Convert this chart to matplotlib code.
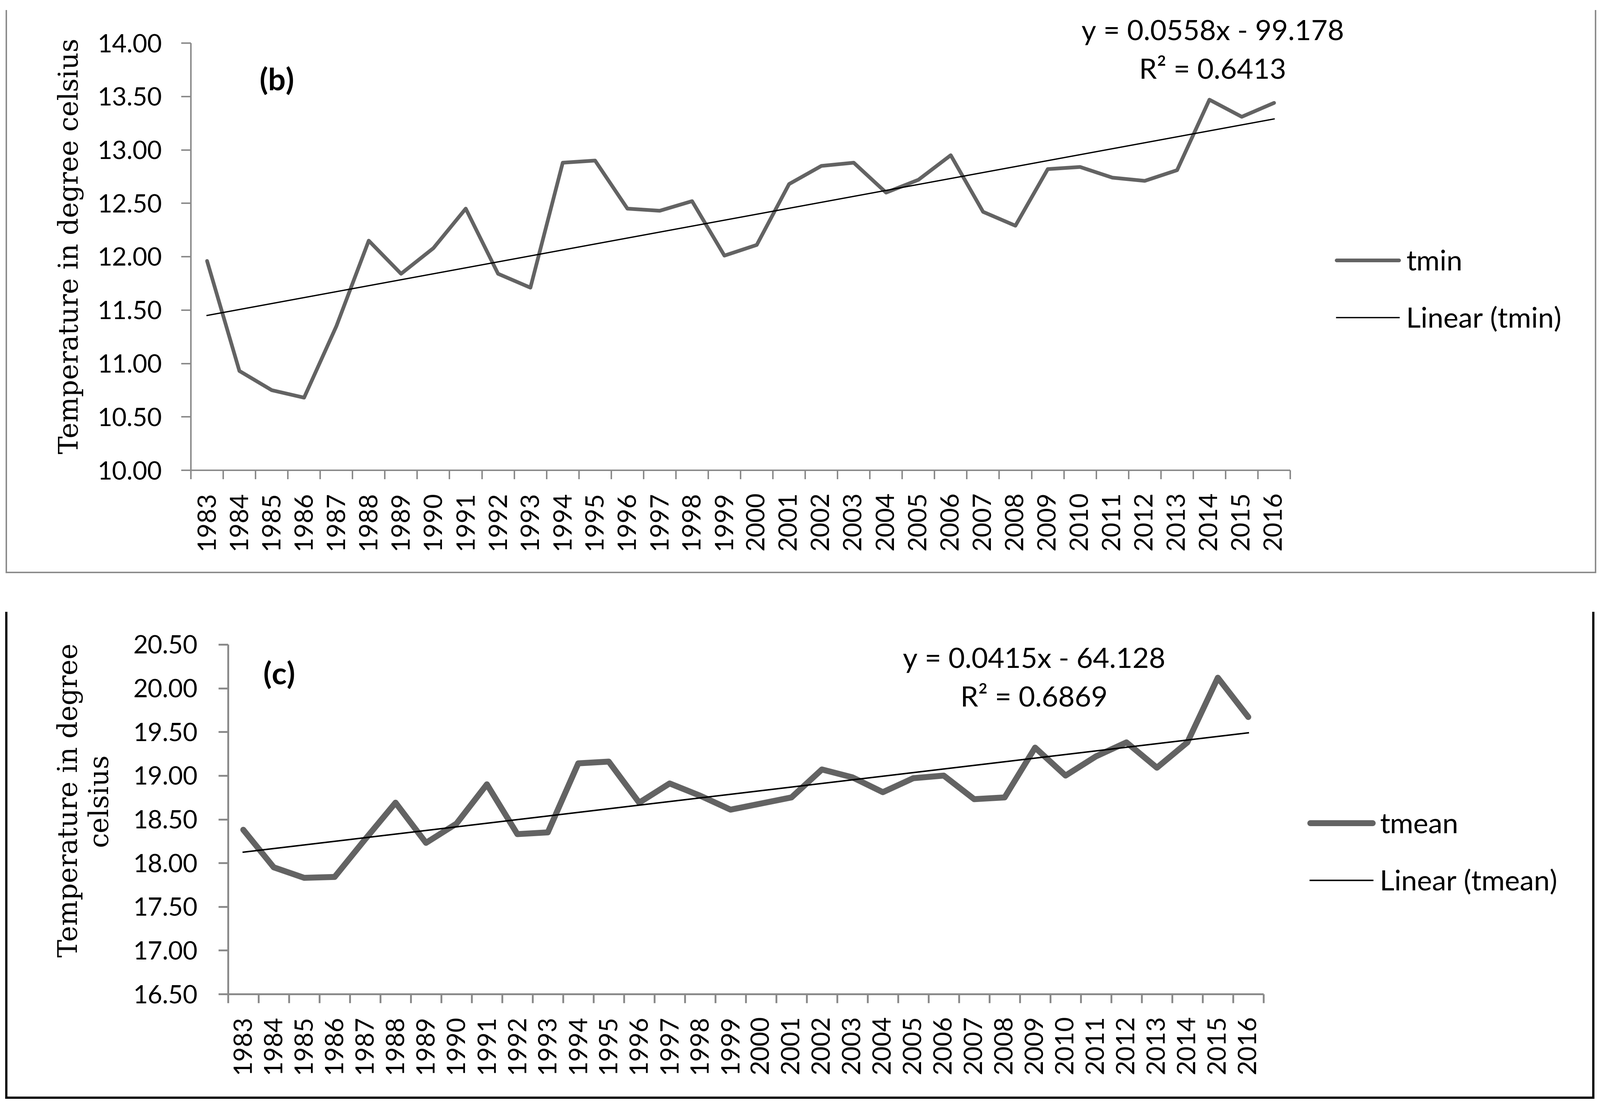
import matplotlib
matplotlib.use("Agg")
import matplotlib.pyplot as plt
from matplotlib.lines import Line2D
from matplotlib.ticker import FixedLocator, FormatStrFormatter
import numpy as np

# ---- data ----
years = list(range(1983, 2017))
tmin = [11.96, 10.93, 10.75, 10.68, 11.35, 12.15, 11.84, 12.08, 12.45, 11.84,
        11.71, 12.88, 12.90, 12.45, 12.43, 12.52, 12.01, 12.11, 12.68, 12.85,
        12.88, 12.60, 12.72, 12.95, 12.42, 12.29, 12.82, 12.84, 12.74, 12.71,
        12.81, 13.47, 13.31, 13.44]
tmean = [18.38, 17.95, 17.83, 17.84, 18.27, 18.69, 18.23, 18.45, 18.90, 18.33,
         18.35, 19.14, 19.16, 18.69, 18.91, 18.77, 18.61, 18.68, 18.75, 19.07,
         18.98, 18.81, 18.97, 19.00, 18.73, 18.75, 19.32, 19.00, 19.22, 19.38,
         19.09, 19.38, 20.12, 19.67]
# trendline labels as printed on the chart
tmin_eq = ("y = 0.0558x - 99.178", "R² = 0.6413")
tmean_eq = ("y = 0.0415x - 64.128", "R² = 0.6869")

W, H = 4308, 2972
PX = 72 / 100  # pixel -> point at dpi 100

GREY_LINE = "#636363"
AXIS = "#8a8a8a"
SANS = ["Lato", "DejaVu Sans"]
SERIF = ["DejaVu Serif"]


def fx(x):
    return x / W


def fy(y):
    return 1 - y / H


fig = plt.figure(figsize=(W / 100, H / 100), dpi=100)


def panel(box, vals, eq, ylim, name, tag, lw, tlw, alw, ylab, ylab_xy,
          tag_xy, eq_xy, leg_xy, ypad):
    left, top, right, bottom = box
    ax = fig.add_axes([fx(left), fy(bottom), fx(right) - fx(left), fy(top) - fy(bottom)])
    # least squares linear trend, like Excel's "Linear" trendline
    slope, icpt = np.polyfit(years, vals, 1)
    trend = [slope * y + icpt for y in years]

    ax.plot(years, vals, color=GREY_LINE, lw=lw * PX, solid_capstyle="round",
            solid_joinstyle="round", label=name, zorder=3)
    ax.plot(years, trend, color="black", lw=tlw * PX, label=f"Linear ({name})", zorder=4)

    ax.set_xlim(years[0] - 0.5, years[-1] + 0.5)
    ax.set_ylim(*ylim)
    ax.yaxis.set_major_locator(FixedLocator(np.arange(ylim[0], ylim[1] + 0.01, 0.5)))
    ax.yaxis.set_major_formatter(FormatStrFormatter("%.2f"))
    ax.xaxis.set_major_locator(FixedLocator(years))
    ax.set_xticklabels([str(y) for y in years], rotation=90)
    ax.xaxis.set_minor_locator(FixedLocator(np.arange(years[0] - 0.5, years[-1] + 0.6, 1)))

    for s in ("top", "right"):
        ax.spines[s].set_visible(False)
    for s in ("left", "bottom"):
        ax.spines[s].set_color(AXIS)
        ax.spines[s].set_linewidth(alw * PX)
        ax.spines[s].set_capstyle("butt")

    ax.tick_params(axis="y", which="major", length=26 * PX, width=alw * PX, color=AXIS,
                   pad=ypad * PX, labelsize=49, direction="out")
    ax.tick_params(axis="x", which="major", length=0, pad=57 * PX, labelsize=49)
    ax.tick_params(axis="x", which="minor", length=24 * PX, width=alw * PX, color=AXIS,
                   direction="out")
    for lab in ax.get_xticklabels() + ax.get_yticklabels():
        lab.set_fontfamily(SANS)

    fig.text(fx(ylab_xy[0]), fy(ylab_xy[1]), ylab, rotation=90, ha="center", va="center",
             multialignment="center", fontsize=52, family=SERIF, linespacing=1.15)
    fig.text(fx(tag_xy[0]), fy(tag_xy[1]), tag, ha="center", va="center",
             fontsize=60, fontweight="bold", family=SANS)
    fig.text(fx(eq_xy[0]), fy(eq_xy[1]), eq[0],
             ha="center", va="center", fontsize=55, family=SANS)
    fig.text(fx(eq_xy[0]), fy(eq_xy[1] + 102), eq[1],
             ha="center", va="center", fontsize=55, family=SANS)

    ax.legend(loc="center left", bbox_to_anchor=(fx(leg_xy[0]), fy(leg_xy[1])),
              bbox_transform=fig.transFigure, frameon=False, borderpad=0,
              borderaxespad=0, handlelength=2.2, handletextpad=0.25,
              labelspacing=1.1, prop={"family": SANS, "size": 55})
    return ax


panel((514, 116, 3474, 1266), tmin, tmin_eq, (10.0, 14.0), "tmin", "(b)",
      lw=10, tlw=3.5, alw=4, ylab="Temperature in degree celsius", ylab_xy=(190, 662),
      tag_xy=(746, 218), eq_xy=(3265, 88), leg_xy=(3599, 783), ypad=52)

panel((614, 1735, 3402, 2676), tmean, tmean_eq, (16.5, 20.5), "tmean", "(c)",
      lw=16, tlw=4, alw=5, ylab="Temperature in degree\ncelsius", ylab_xy=(228, 2154),
      tag_xy=(752, 1817), eq_xy=(2784, 1778), leg_xy=(3528, 2298), ypad=56)


# frames around the two panels (top edges are cut off in the source)
def frame(x0, y0, x1, y1, color, w):
    pts = [(x0, y0), (x0, y1), (x1, y1), (x1, y0)]
    xs = [fx(p[0]) for p in pts]
    ys = [fy(p[1]) for p in pts]
    fig.add_artist(Line2D(xs, ys, color=color, lw=w * PX, transform=fig.transFigure,
                          solid_joinstyle="miter"))


frame(17, 29, 4296, 1541, "#8c8c8c", 4)
frame(17, 1650, 4290, 2955, "black", 6)

fig.savefig("out.png", dpi=100, facecolor="white")
